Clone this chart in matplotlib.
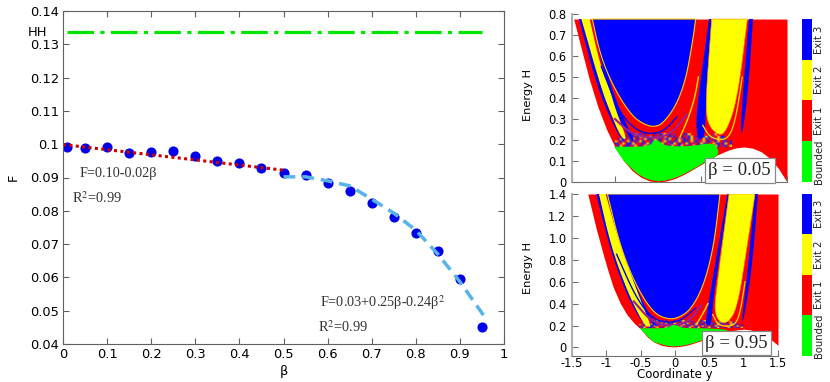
import numpy as np
import matplotlib
matplotlib.use("Agg")
import matplotlib.pyplot as plt
from matplotlib.colors import ListedColormap, to_rgba

FIG_W, FIG_H = 830, 382

# left panel
beta = [0.01, 0.05, 0.1, 0.15, 0.2, 0.25, 0.3, 0.35, 0.4, 0.45, 0.5, 0.55, 0.6, 0.65, 0.7, 0.75, 0.8, 0.85, 0.9, 0.95]
escape = [0.0991, 0.0988, 0.0991, 0.0975, 0.0977, 0.098, 0.0965, 0.095, 0.0943, 0.0928, 0.0914, 0.0908, 0.0882,
          0.0859, 0.0822, 0.0782, 0.0734, 0.068, 0.0595, 0.0452]
linear_x = [0, 0.5]
linear_y = [0.0999, 0.0922]
quad_x = [0.5, 0.55, 0.6, 0.65, 0.7, 0.75, 0.8, 0.85, 0.9, 0.95, 0.957]
quad_y = [0.0902, 0.0902, 0.089, 0.0875, 0.0835, 0.0793, 0.0742, 0.067, 0.0587, 0.0493, 0.048]
hh_x = [0.01, 0.95]
hh_y = [0.1338, 0.1338]
x_ticks = [0, 0.1, 0.2, 0.3, 0.4, 0.5, 0.6, 0.7, 0.8, 0.9, 1]
x_tick_labels = ["0", "0.1", "0.2", "0.3", "0.4", "0.5", "0.6", "0.7", "0.8", "0.9", "1"]
y_ticks = [0.04, 0.05, 0.06, 0.07, 0.08, 0.09, 0.1, 0.11, 0.12, 0.13, 0.14]
y_tick_labels = ["0.04", "0.05", "0.06", "0.07", "0.08", "0.09", "0.1", "0.11", "0.12", "0.13", "0.14"]

# colorbars
exit_names = ["Bounded", "Exit 1", "Exit 2", "Exit 3"]
exit_colors = ["#00ff00", "#ff0000", "#ffff00", "#0000ff"]

# fractal mixing band, one letter per cell (bottom row first), dot = nothing
fractal_rows = [
    "rbyrbbrpyrbrybpbrrybprbyrpbyrbrpybrbyprbrybrpbry",
    "bpryrbbyprrbpybrbprybrpbyrbprybrprbypbrrypbrbyrb",
    "yrbprybrbpybrrpbyrbrypbrbpyrbbrypbrpyrbprbyrpbrb",
    ".bybrpbyrbrpybbrypbrpbyrrbypbrbyrpbrybprbrypbr..",
    "...ybrpbrbyrp.ybrprbyrbpbr.brpbyrb.rbybrprybb...",
    ".....rrbypbrb...brbpyrbrp...bpyr.......rpy......",
]

# top panel, beta = 0.05 (y coordinate, energy H)
top_limit = 0.776
top_well_y = [-0.98, -0.9, -0.8, -0.7, -0.6, -0.5, -0.4, -0.3, -0.2, -0.1, 0, 0.1, 0.2, 0.3, 0.4, 0.5, 0.6, 0.7, 0.8,
              0.9, 1.0, 1.1, 1.2, 1.3, 1.4, 1.5]
top_well_h = [0.776, 0.648, 0.491, 0.359, 0.252, 0.167, 0.101, 0.054, 0.023, 0.005, 0, 0.005, 0.017, 0.036, 0.059,
              0.083, 0.108, 0.131, 0.149, 0.162, 0.167, 0.161, 0.144, 0.113, 0.065, 0]
top_green_y = [-0.51, -0.1, -0.05, 0.0, 0.08, 0.4, 0.66, 0.72, 0.6, 0.4, 0.2, 0, -0.2, -0.4]
top_green_h = [0.168, 0.168, 0.2, 0.2, 0.17, 0.17, 0.19, 0.13, 0.108, 0.059, 0.017, 0, 0.023, 0.101]
top_strip_y = [-0.888, -0.655, -0.48, -0.37, -0.33, -0.44, -0.7, -0.919]
top_strip_h = [0.776, 0.438, 0.25, 0.18, 0.18, 0.2, 0.438, 0.776]
top_yellow_y = [-0.795, -0.667, -0.558, -0.492, -0.37, -0.39, -0.45, -0.531, -0.655, -0.891]
top_yellow_h = [0.776, 0.549, 0.438, 0.343, 0.215, 0.2, 0.23, 0.31, 0.438, 0.776]
top_strip2_y = [-0.75, -0.56, -0.4, -0.27, -0.3, -0.46, -0.6, -0.77]
top_strip2_h = [0.776, 0.47, 0.3, 0.2, 0.19, 0.3, 0.47, 0.776]
top_main_y = [-0.764, -0.667, -0.5, -0.298, -0.143, -0.047, 0.05, 0.205, 0.322, 0.399, 0.438]
top_main_h = [0.776, 0.597, 0.438, 0.311, 0.271, 0.263, 0.276, 0.359, 0.486, 0.66, 0.776]
top_lobe_y = [0.624, 0.554, 0.574, 0.69, 0.787, 0.922, 1.039]
top_lobe_h = [0.776, 0.39, 0.279, 0.224, 0.232, 0.39, 0.776]
top_blue_lobe_y = [0.624, 0.56, 0.55, 0.53, 0.46, 0.44, 0.5, 0.593]
top_blue_lobe_h = [0.776, 0.4, 0.26, 0.21, 0.2, 0.3, 0.5, 0.776]
top_right_blue_y = [1.105, 1.05, 0.985, 0.96, 0.99, 1.058]
top_right_blue_h = [0.776, 0.44, 0.235, 0.235, 0.44, 0.776]
top_arc1_y = [-0.66, -0.45, -0.25, -0.08, 0.08, 0.22]
top_arc1_h = [0.55, 0.33, 0.245, 0.228, 0.245, 0.31]
top_arc2_y = [0.256, 0.35, 0.43, 0.47]
top_arc2_h = [0.215, 0.3, 0.405, 0.5]
top_arc3_y = [0.52, 0.6, 0.72, 0.82, 0.9, 0.98]
top_arc3_h = [0.27, 0.215, 0.2, 0.21, 0.29, 0.5]
top_arc4_y = [-0.5, -0.33, -0.12, 0.05, 0.2, 0.33]
top_arc4_h = [0.3, 0.235, 0.21, 0.212, 0.25, 0.32]

# bottom panel, beta = 0.95
bot_limit = 1.4
bot_well_y = [-1.27, -1.15, -1.05, -0.98, -0.9, -0.8, -0.7, -0.6, -0.51, -0.4, -0.32, -0.2, -0.1, 0, 0.1, 0.2, 0.3,
              0.4, 0.5, 0.6, 0.7, 0.8, 0.9, 1.0, 1.1, 1.2, 1.3, 1.4, 1.5]
bot_well_h = [1.4, 1.09, 0.86, 0.708, 0.55, 0.406, 0.3, 0.225, 0.173, 0.095, 0.053, 0.02, 0.008, 0.005, 0.012, 0.025,
              0.045, 0.065, 0.09, 0.115, 0.135, 0.15, 0.16, 0.167, 0.16, 0.14, 0.115, 0.07, 0.02]
bot_green_y = [-0.515, -0.1, -0.05, 0.02, 0.1, 0.5, 0.8, 0.7, 0.5, 0.3, 0.1, -0.1, -0.32]
bot_green_h = [0.175, 0.175, 0.205, 0.205, 0.175, 0.175, 0.16, 0.135, 0.09, 0.045, 0.012, 0.008, 0.053]
bot_strip_y = [-1.107, -0.84, -0.56, -0.345, -0.31, -0.46, -0.72, -0.96, -1.146]
bot_strip_h = [1.4, 0.72, 0.4, 0.19, 0.19, 0.2, 0.5, 0.93, 1.4]
bot_yellow_y = [-1.01, -0.816, -0.549, -0.345, -0.38, -0.451, -0.694, -0.937, -1.107]
bot_yellow_h = [1.4, 0.965, 0.508, 0.189, 0.19, 0.204, 0.508, 0.935, 1.4]
bot_strip2_y = [-0.975, -0.66, -0.42, -0.25, -0.29, -0.5, -0.7, -1.0]
bot_strip2_h = [1.4, 0.708, 0.34, 0.2, 0.19, 0.36, 0.708, 1.4]
bot_main_y = [-0.985, -0.791, -0.549, -0.306, -0.112, 0.034, 0.228, 0.422, 0.568, 0.655]
bot_main_h = [1.4, 0.904, 0.539, 0.31, 0.259, 0.265, 0.341, 0.569, 0.935, 1.4]
bot_lobe_y = [0.786, 0.592, 0.578, 0.641, 0.762, 0.908, 1.053, 1.165]
bot_lobe_h = [1.4, 0.478, 0.326, 0.234, 0.219, 0.356, 0.935, 1.4]
bot_blue_lobe_y = [0.786, 0.57, 0.54, 0.52, 0.44, 0.47, 0.54, 0.762]
bot_blue_lobe_h = [1.4, 0.5, 0.3, 0.2, 0.2, 0.33, 0.6, 1.4]
bot_right_blue_y = [1.209, 1.12, 1.0, 0.97, 1.06, 1.165]
bot_right_blue_h = [1.4, 0.708, 0.25, 0.22, 0.708, 1.4]
bot_arc1_y = [-0.85, -0.55, -0.3, -0.08, 0.1, 0.3]
bot_arc1_h = [0.85, 0.43, 0.25, 0.225, 0.25, 0.36]
bot_arc2_y = [0.32, 0.4, 0.48]
bot_arc2_h = [0.22, 0.3, 0.4]
bot_arc3_y = [0.55, 0.62, 0.75, 0.88, 0.95, 1.02]
bot_arc3_h = [0.3, 0.21, 0.19, 0.21, 0.32, 0.6]
bot_arc4_y = [-0.6, -0.35, -0.12, 0.08, 0.25, 0.38]
bot_arc4_h = [0.42, 0.24, 0.2, 0.205, 0.27, 0.38]

plt.rcParams["font.family"] = "DejaVu Sans"
plt.rcParams["mathtext.fontset"] = "stix"

fig = plt.figure(figsize=(FIG_W / 100, FIG_H / 100), dpi=100)


def px_axes(left, top, right, bottom):
    return fig.add_axes([left / FIG_W, 1 - bottom / FIG_H, (right - left) / FIG_W, (bottom - top) / FIG_H])


def rounded(xs, ys, passes=3):
    # corner cutting so the read outlines do not look faceted, end points stay put
    pts = np.column_stack([xs, ys])
    for _ in range(passes):
        q = 0.75 * pts[:-1] + 0.25 * pts[1:]
        r = 0.25 * pts[:-1] + 0.75 * pts[1:]
        mid = np.empty((2 * len(q), 2))
        mid[0::2] = q
        mid[1::2] = r
        pts = np.vstack([pts[0], mid, pts[-1]])
    return pts[:, 0], pts[:, 1]


def draw_basin(ax, well_y, well_h, limit, p):
    ax.fill_between(well_y, well_h, limit, color="#ff0000", lw=0, zorder=1)

    # mixing band under the lobes
    palette = {"r": "#ff0000", "b": "#2020e0", "y": "#ffd000", "p": "#a02090", ".": "#ff000000"}
    cells = np.array([[to_rgba(palette[c]) for c in row] for row in fractal_rows])
    ax.imshow(cells, origin="lower", aspect="auto", interpolation="bilinear", zorder=1.5,
              extent=[p["fr_x"][0], p["fr_x"][1], p["fr_h"][0], p["fr_h"][1]])

    for key in ["strip", "strip2", "blue_lobe", "right_blue"]:
        ax.fill(*rounded(*p[key]), color="#0000ff", lw=0, zorder=2)
    ax.fill(*rounded(*p["yellow"]), color="#ffff00", lw=0, zorder=2.1)
    ax.plot(*rounded(*p["arc4"]), color="#a02090", lw=1.6, zorder=2.2)
    ax.plot(*rounded(*p["arc1"]), color="#0000ff", lw=1.0, zorder=2.3)
    ax.plot(*rounded(*p["arc2"]), color="#ffe000", lw=1.0, zorder=2.3)
    ax.plot(*rounded(*p["arc3"]), color="#ffe000", lw=0.9, zorder=2.3)
    ax.fill(*rounded(*p["main"]), color="#0000ff", ec="#ffd000", lw=0.8, zorder=2.4)
    ax.fill(*rounded(*p["lobe"]), color="#ffff00", ec="#ff9000", lw=0.4, zorder=2.4)
    ax.fill(*rounded(*p["green"], passes=2), color="#00ff00", lw=0, zorder=2.5)


def style_basin(ax):
    ax.spines["top"].set_visible(False)
    ax.spines["right"].set_visible(False)
    ax.spines["left"].set_color("#b0b0b0")
    ax.spines["left"].set_linewidth(1.5)
    ax.spines["bottom"].set_color("#707070")
    ax.tick_params(direction="in", length=4, width=0.8, color="#707070", labelsize=8.3, pad=4)


def draw_exit_bar(ax):
    ax.imshow(np.array([[3], [2], [1], [0]]), cmap=ListedColormap(exit_colors), aspect="auto", extent=[0, 1, 0, 4])
    ax.axis("off")
    for i, name in enumerate(exit_names):
        ax.text(1.65, i + 0.5, name, rotation=90, ha="center", va="center", fontsize=7.2, color="#222222",
                clip_on=False)


# left panel
ax = px_axes(63, 11, 504, 344)
ax.plot(hh_x, hh_y, color="#00e600", lw=2.3, ls=(0, (8.3, 2, 1.3, 2)))
ax.plot(beta, escape, "o", color="#0000e8", ms=7.3, mew=0)
ax.plot(linear_x, linear_y, color="#cc0000", lw=2.2, ls=(0, (1, 1.1)))
ax.plot(quad_x, quad_y, color="#56b4e9", lw=2.5, ls=(0, (3.4, 2)))
ax.set_xlim(0, 1)
ax.set_ylim(0.04, 0.14)
ax.set_xticks(x_ticks, x_tick_labels)
ax.set_yticks(y_ticks, y_tick_labels)
ax.tick_params(direction="in", top=True, right=True, length=4.5, width=0.8, color="#606060", labelsize=9.4, pad=3)
for s in ax.spines.values():
    s.set_color("#606060")
ax.set_xlabel("β", fontsize=9.4, labelpad=3)
ax.set_ylabel("F", fontsize=9.4, labelpad=7)
ax.text(-0.058, 0.1335, "HH", fontsize=9.4, ha="center", va="center", clip_on=False)
note = dict(family="Liberation Serif", fontsize=10.3, color="#333333", va="center")
ax.text(0.037, 0.0911, "F=0.10-0.02β", **note)
ax.text(0.02, 0.0838, "R$^2$=0.99", **note)
ax.text(0.583, 0.0525, "F=0.03+0.25β-0.24β$^2$", **note)
ax.text(0.578, 0.0452, "R$^2$=0.99", **note)

# top map
ax1 = px_axes(572, 14, 787, 182)
top_parts = dict(
    fr_x=(-0.5, 0.86), fr_h=(0.168, 0.232),
    strip=(top_strip_y, top_strip_h), strip2=(top_strip2_y, top_strip2_h), yellow=(top_yellow_y, top_yellow_h),
    blue_lobe=(top_blue_lobe_y, top_blue_lobe_h), right_blue=(top_right_blue_y, top_right_blue_h),
    arc1=(top_arc1_y, top_arc1_h), arc2=(top_arc2_y, top_arc2_h), arc3=(top_arc3_y, top_arc3_h),
    arc4=(top_arc4_y, top_arc4_h),
    main=(top_main_y, top_main_h), lobe=(top_lobe_y, top_lobe_h), green=(top_green_y, top_green_h),
)
draw_basin(ax1, top_well_y, top_well_h, top_limit, top_parts)
ax1.set_xlim(-1, 1.5)
ax1.set_ylim(0, 0.8)
ax1.set_xticks([-1, -0.5, 0, 0.5, 1, 1.5], [])
ax1.set_yticks([0, 0.1, 0.2, 0.3, 0.4, 0.5, 0.6, 0.7, 0.8], ["0", "0.1", "0.2", "0.3", "0.4", "0.5", "0.6", "0.7", "0.8"])
style_basin(ax1)
ax1.set_ylabel("Energy H", fontsize=8.2)
ax1.yaxis.set_label_coords(-0.181, 0.518)
ax1.text(0.95, 0.055, "β = 0.05", family="Liberation Serif", fontsize=13.5, ha="center", va="center", color="#222222",
         bbox=dict(fc="white", ec="#888888", lw=0.9, pad=2.5), zorder=4)

# bottom map
ax2 = px_axes(572, 194, 778, 356)
bot_parts = dict(
    fr_x=(-0.52, 0.98), fr_h=(0.175, 0.245),
    strip=(bot_strip_y, bot_strip_h), strip2=(bot_strip2_y, bot_strip2_h), yellow=(bot_yellow_y, bot_yellow_h),
    blue_lobe=(bot_blue_lobe_y, bot_blue_lobe_h), right_blue=(bot_right_blue_y, bot_right_blue_h),
    arc1=(bot_arc1_y, bot_arc1_h), arc2=(bot_arc2_y, bot_arc2_h), arc3=(bot_arc3_y, bot_arc3_h),
    arc4=(bot_arc4_y, bot_arc4_h),
    main=(bot_main_y, bot_main_h), lobe=(bot_lobe_y, bot_lobe_h), green=(bot_green_y, bot_green_h),
)
draw_basin(ax2, bot_well_y, bot_well_h, bot_limit, bot_parts)
ax2.set_xlim(-1.5, 1.5)
ax2.set_ylim(-0.078, 1.4)
ax2.set_xticks([-1.5, -1, -0.5, 0, 0.5, 1, 1.5], ["-1.5", "-1", "-0.5", "0", "0.5", "1", "1.5"])
ax2.set_yticks([0, 0.2, 0.4, 0.6, 0.8, 1.0, 1.2, 1.4], ["0", "0.2", "0.4", "0.6", "0.8", "1.0", "1.2", "1.4"])
style_basin(ax2)
ax2.tick_params(axis="x", pad=0.5)
ax2.set_xlabel("Coordinate y", fontsize=8.5, labelpad=-1)
ax2.set_ylabel("Energy H", fontsize=8.2)
ax2.yaxis.set_label_coords(-0.189, 0.543)
ax2.text(0.897, 0.04, "β = 0.95", family="Liberation Serif", fontsize=13.5, ha="center", va="center", color="#222222",
         bbox=dict(fc="white", ec="#888888", lw=0.9, pad=2.5), zorder=4)

# colorbars
draw_exit_bar(px_axes(802, 19, 812, 182))
draw_exit_bar(px_axes(802, 194, 812, 356))

fig.savefig("out.png", dpi=100)
